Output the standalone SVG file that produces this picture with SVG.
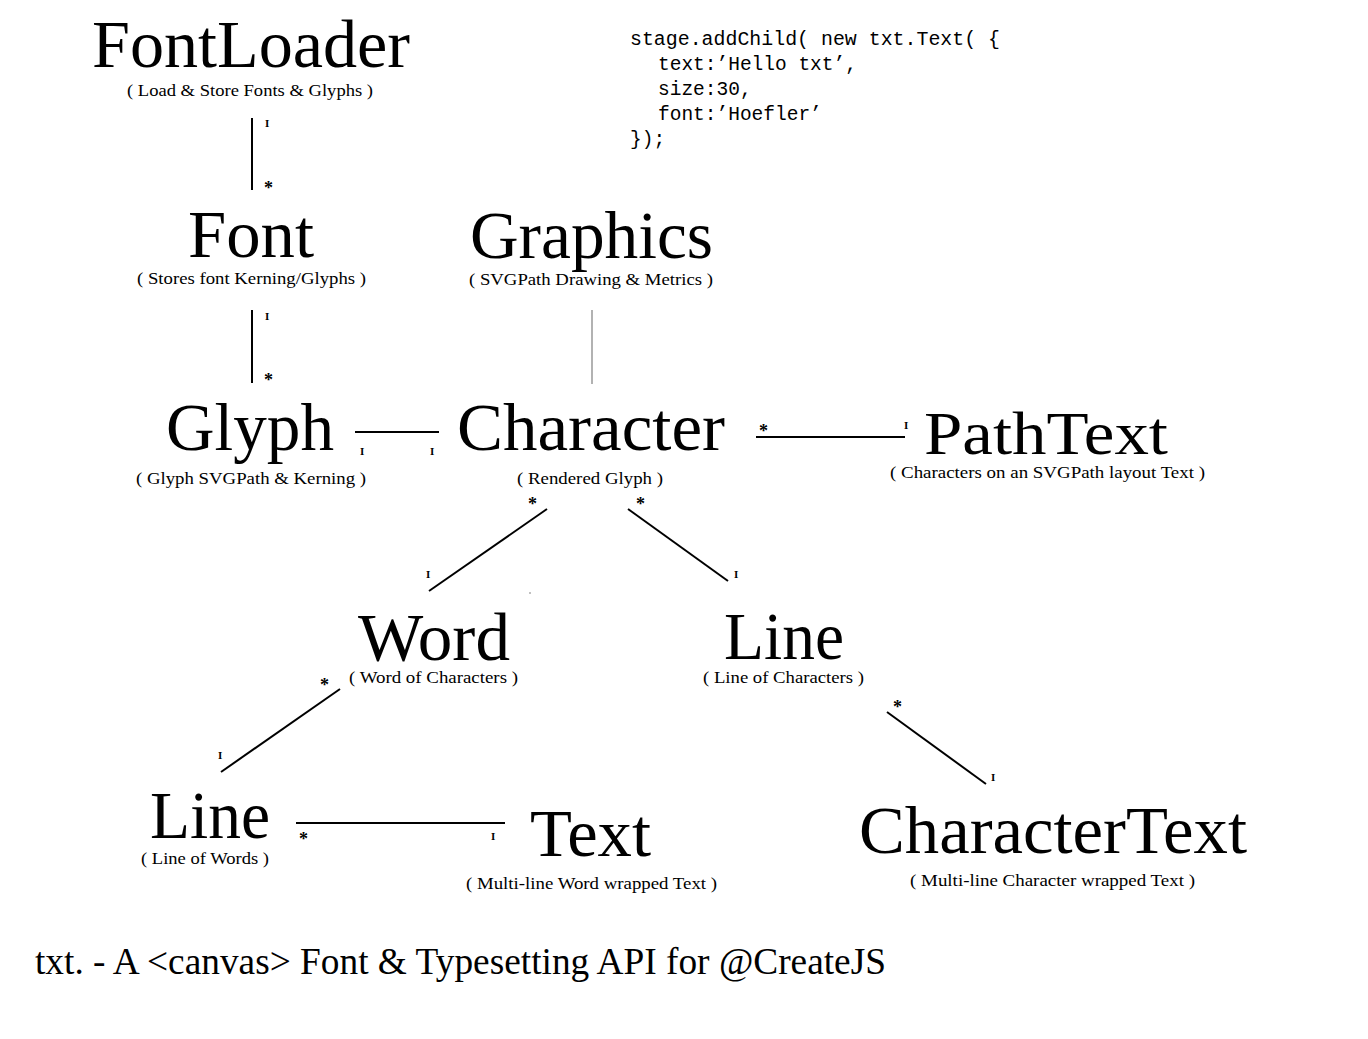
<svg xmlns="http://www.w3.org/2000/svg" width="1368" height="1039" viewBox="0 0 1368 1039">
<style>
.t{font-family:"Liberation Serif","DejaVu Serif",serif;fill:#000}
.h{font-size:67px}
.s{font-size:17px}
.m{font-family:"Liberation Serif",serif;font-size:11px;font-weight:bold}
.a{font-family:"Liberation Serif",serif;font-size:18px;font-weight:bold}
.code{font-family:"Liberation Mono","DejaVu Sans Mono",monospace;font-size:19.5px;fill:#000}
.c{stroke:#000;stroke-width:2;fill:none}
</style>
<rect width="1368" height="1039" fill="#fff"/>
<g id="code">
<text class="code" x="630" y="45" textLength="370" lengthAdjust="spacingAndGlyphs">stage.addChild( new txt.Text( {</text>
<text class="code" x="658" y="70">text:’Hello txt’,</text>
<text class="code" x="658" y="95">size:30,</text>
<text class="code" x="658" y="120">font:’Hoefler’</text>
<text class="code" x="630" y="145">});</text>
</g>
<g id="connectors">
<line class="c" x1="252" y1="118" x2="252" y2="190"/>
<text class="m" x="265" y="127">I</text><text class="a" x="264" y="194">*</text>
<line class="c" x1="252" y1="310" x2="252" y2="383"/>
<text class="m" x="265" y="320">I</text><text class="a" x="264" y="386">*</text>
<line x1="592" y1="310" x2="592" y2="384" stroke="#999" stroke-width="1.5"/>
<line class="c" x1="355" y1="432" x2="439" y2="432"/>
<text class="m" x="360" y="455">I</text><text class="m" x="430" y="455">I</text>
<line class="c" x1="756" y1="437" x2="905" y2="437"/>
<text class="a" x="759" y="437">*</text><text class="m" x="904" y="429">I</text>
<line class="c" x1="547" y1="509" x2="429" y2="591"/>
<text class="a" x="528" y="510">*</text><text class="m" x="426" y="578">I</text>
<line class="c" x1="628" y1="509" x2="728" y2="581"/>
<text class="a" x="636" y="510">*</text><text class="m" x="734" y="578">I</text>
<circle cx="530" cy="593" r="0.7" fill="#555"/>
<line class="c" x1="340" y1="689" x2="221" y2="772"/>
<text class="a" x="320" y="691">*</text><text class="m" x="218" y="759">I</text>
<line class="c" x1="887" y1="712" x2="986" y2="784"/>
<text class="a" x="893" y="713">*</text><text class="m" x="991" y="781">I</text>
<line class="c" x1="296" y1="823" x2="505" y2="823"/>
<text class="a" x="299" y="845">*</text><text class="m" x="491" y="840">I</text>
</g>
<g id="FontLoader">
<text class="t h" x="92" y="67" textLength="318" lengthAdjust="spacingAndGlyphs">FontLoader</text>
<text class="t s" x="127" y="96" textLength="246" lengthAdjust="spacingAndGlyphs">( Load &amp; Store Fonts &amp; Glyphs )</text>
</g>
<g id="Font">
<text class="t h" x="188" y="257" textLength="126" lengthAdjust="spacingAndGlyphs">Font</text>
<text class="t s" x="137" y="284" textLength="229" lengthAdjust="spacingAndGlyphs">( Stores font Kerning/Glyphs )</text>
</g>
<g id="Graphics">
<text class="t h" x="470" y="258" textLength="243" lengthAdjust="spacingAndGlyphs">Graphics</text>
<text class="t s" x="469" y="285" textLength="244" lengthAdjust="spacingAndGlyphs">( SVGPath Drawing &amp; Metrics )</text>
</g>
<g id="Glyph">
<text class="t h" x="166" y="450" textLength="168" lengthAdjust="spacingAndGlyphs">Glyph</text>
<text class="t s" x="136" y="484" textLength="230" lengthAdjust="spacingAndGlyphs">( Glyph SVGPath &amp; Kerning )</text>
</g>
<g id="Character">
<text class="t h" x="457" y="450" textLength="268" lengthAdjust="spacingAndGlyphs">Character</text>
<text class="t s" x="517" y="484" textLength="146" lengthAdjust="spacingAndGlyphs">( Rendered Glyph )</text>
</g>
<g id="PathText">
<text class="t" style="font-size:62px" x="924" y="454" textLength="244" lengthAdjust="spacingAndGlyphs">PathText</text>
<text class="t s" x="890" y="478" textLength="315" lengthAdjust="spacingAndGlyphs">( Characters on an SVGPath layout Text )</text>
</g>
<g id="Word">
<text class="t h" x="358" y="660" textLength="152" lengthAdjust="spacingAndGlyphs">Word</text>
<text class="t s" x="349" y="683" textLength="169" lengthAdjust="spacingAndGlyphs">( Word of Characters )</text>
</g>
<g id="LineChars">
<text class="t h" x="724" y="659" textLength="120" lengthAdjust="spacingAndGlyphs">Line</text>
<text class="t s" x="703" y="683" textLength="161" lengthAdjust="spacingAndGlyphs">( Line of Characters )</text>
</g>
<g id="LineWords">
<text class="t h" x="150" y="838" textLength="120" lengthAdjust="spacingAndGlyphs">Line</text>
<text class="t s" x="141" y="864" textLength="128" lengthAdjust="spacingAndGlyphs">( Line of Words )</text>
</g>
<g id="Text">
<text class="t h" x="530" y="856" textLength="121" lengthAdjust="spacingAndGlyphs">Text</text>
<text class="t s" x="466" y="889" textLength="251" lengthAdjust="spacingAndGlyphs">( Multi-line Word wrapped Text )</text>
</g>
<g id="CharacterText">
<text class="t h" x="859" y="853" textLength="388" lengthAdjust="spacingAndGlyphs">CharacterText</text>
<text class="t s" x="910" y="886" textLength="285" lengthAdjust="spacingAndGlyphs">( Multi-line Character wrapped Text )</text>
</g>
<g id="title">
<text class="t" style="font-size:38px" x="35" y="974" textLength="851" lengthAdjust="spacingAndGlyphs">txt. - A &lt;canvas&gt; Font &amp; Typesetting API for @CreateJS</text>
</g>
</svg>
